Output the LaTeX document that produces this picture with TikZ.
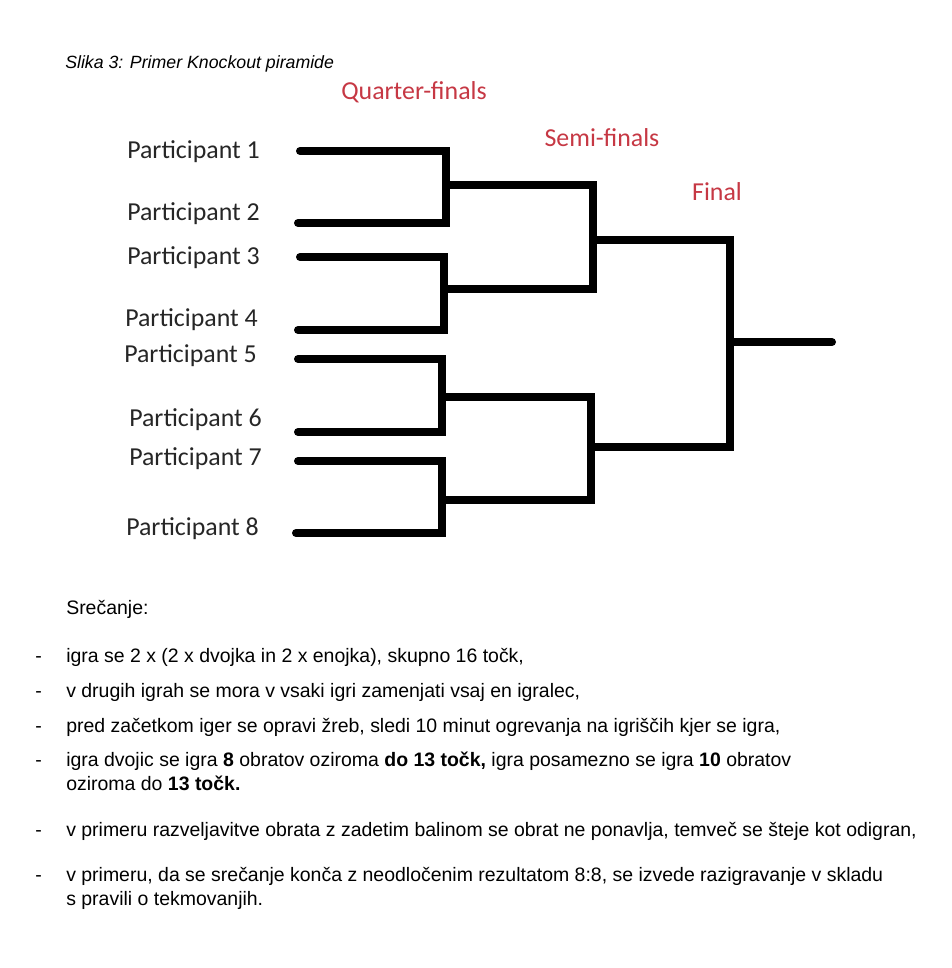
\documentclass[tikz,border=0pt]{standalone}
\usepackage{fontspec}
\setmainfont{Liberation Sans}
\newfontfamily\calib{Carlito}
\definecolor{labred}{RGB}{198,56,68}
\tikzset{
  px/.style={x=0.75pt,y=-0.75pt},
  part/.style={anchor=west,inner sep=0pt,font=\calib\fontsize{19.4}{22}\selectfont,text=black!85},
  round/.style={anchor=center,inner sep=0pt,font=\calib\fontsize{19.4}{22}\selectfont,text=labred},
  bar/.style={line width=6pt,line cap=round,line join=miter},
  body/.style={anchor=base west,inner sep=0pt,font=\fontsize{14.6}{17}\selectfont},
  dashmark/.style={anchor=base west,inner sep=0pt,font=\fontsize{14.6}{17}\selectfont},
}
\begin{document}
\begin{tikzpicture}[px]
\useasboundingbox (0,0) rectangle (952,968);
\node[anchor=base west,inner sep=0pt,font=\itshape\fontsize{13.3}{15}\selectfont] (cap) at (65,68) {Slika 3: Primer Knockout piramide};
% round labels
\node[round] (qf) at (414,92) {Quarter-finals};
\node[round] (sf) at (602,138) {Semi-finals};
\node[round] (fn) at (717,192) {Final};
% participants
\node[part] (p1) at (127,152) {Participant 1};
\node[part] (p2) at (127,214) {Participant 2};
\node[part] (p3) at (127,258) {Participant 3};
\node[part] (p4) at (125,320) {Participant 4};
\node[part] (p5) at (124,356) {Participant 5};
\node[part] (p6) at (129,420) {Participant 6};
\node[part] (p7) at (129,459) {Participant 7};
\node[part] (p8) at (126,529) {Participant 8};
% bracket coordinates
\coordinate (a1) at (300,151); \coordinate (b1) at (446,151);
\coordinate (a2) at (298,223); \coordinate (b2) at (446,223);
\coordinate (a3) at (300,257); \coordinate (b3) at (444,257);
\coordinate (a4) at (298,330); \coordinate (b4) at (444,330);
\coordinate (a5) at (298,359); \coordinate (b5) at (442,359);
\coordinate (a6) at (298,432); \coordinate (b6) at (442,432);
\coordinate (a7) at (298,461); \coordinate (b7) at (442,461);
\coordinate (a8) at (296,533); \coordinate (b8) at (442,533);
\coordinate (m12) at (446,185); \coordinate (m34) at (444,289);
\coordinate (m56) at (442,397); \coordinate (m78) at (442,500);
\coordinate (s1) at (593,185); \coordinate (s2) at (593,289);
\coordinate (s3) at (591,397); \coordinate (s4) at (591,500);
\coordinate (ms1) at (593,240); \coordinate (ms2) at (591,447);
\coordinate (f1) at (730,240); \coordinate (f2) at (730,447);
\coordinate (fm) at (730,342); \coordinate (win) at (832,342);
\draw[bar] (a1) -- (b1) -- (b2) -- (a2);
\draw[bar] (a3) -- (b3) -- (b4) -- (a4);
\draw[bar] (a5) -- (b5) -- (b6) -- (a6);
\draw[bar] (a7) -- (b7) -- (b8) -- (a8);
\draw[bar] (m12) -- (s1) -- (s2) -- (m34);
\draw[bar] (m56) -- (s3) -- (s4) -- (m78);
\draw[bar] (ms1) -- (f1) -- (f2) -- (ms2);
\draw[bar] (fm) -- (win);
% body text
\node[body] (t0) at (66,614) {Srečanje:};
\node[dashmark] (d1) at (35,662) {-};
\node[body] (t1) at (66,662) {igra se 2 x (2 x dvojka in 2 x enojka), skupno 16 točk,};
\node[dashmark] (d2) at (35,697) {-};
\node[body] (t2) at (66,697) {v drugih igrah se mora v vsaki igri zamenjati vsaj en igralec,};
\node[dashmark] (d3) at (35,732) {-};
\node[body] (t3) at (66,732) {pred začetkom iger se opravi žreb, sledi 10 minut ogrevanja na igriščih kjer se igra,};
\node[dashmark] (d4) at (35,766) {-};
\node[body] (t4) at (66,766) {igra dvojic se igra \textbf{8} obratov oziroma \textbf{do 13 točk,} igra posamezno se igra \textbf{10} obratov};
\node[body] (t4b) at (66,790) {oziroma do \textbf{13 točk.}};
\node[dashmark] (d5) at (35,836) {-};
\node[body] (t5) at (66,836) {v primeru razveljavitve obrata z zadetim balinom se obrat ne ponavlja, temveč se šteje kot odigran,};
\node[dashmark] (d6) at (35,881) {-};
\node[body] (t6) at (66,881) {v primeru, da se srečanje konča z neodločenim rezultatom 8:8, se izvede razigravanje v skladu};
\node[body] (t6b) at (66,905) {s pravili o tekmovanjih.};
\end{tikzpicture}
\end{document}
